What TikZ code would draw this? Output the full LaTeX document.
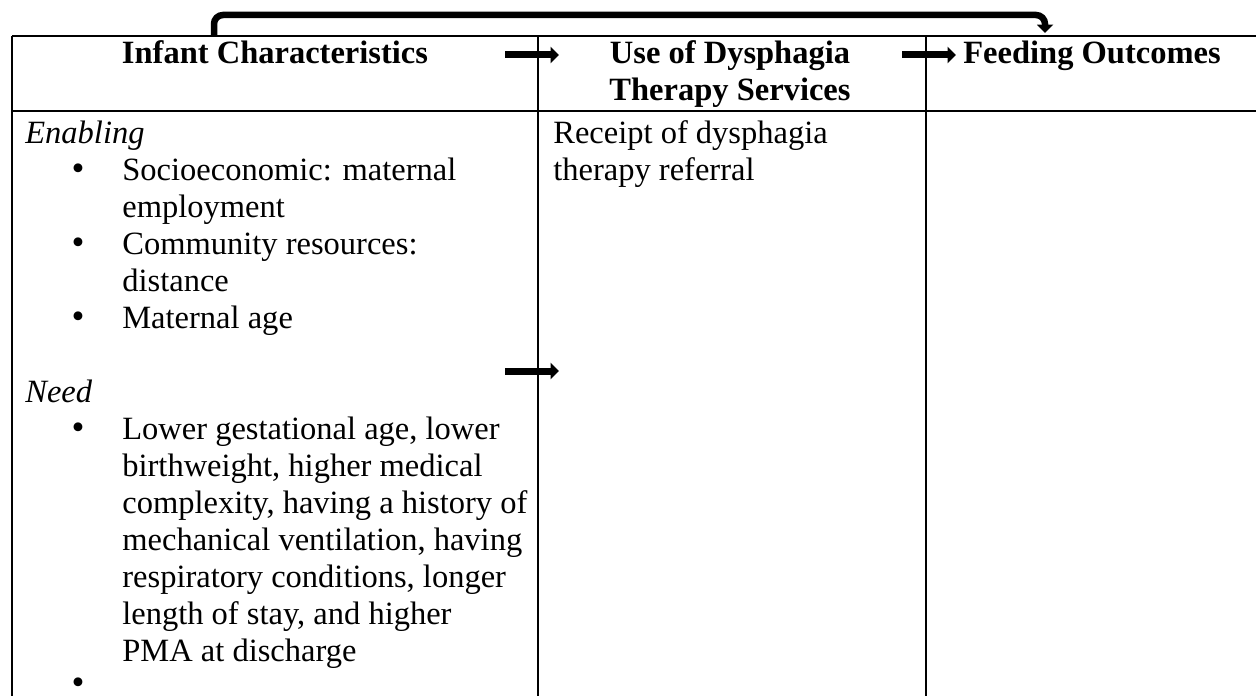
\documentclass[tikz,border=0pt]{standalone}
\usepackage{fontspec}
\setmainfont{Liberation Serif}
\usetikzlibrary{arrows.meta}
\tikzset{>={Triangle[length=0.17cm,width=0.32cm]}}
\tikzset{
    cell/.style={anchor=base west,inner sep=0pt,align=left,font=\fontsize{18.5pt}{21pt}\selectfont},
    head/.style={anchor=base,inner sep=0pt,align=center,font=\fontsize{18.5pt}{21pt}\selectfont\bfseries},
    bul/.style={anchor=base,inner sep=0pt,font=\fontsize{21pt}{21pt}\selectfont},
    rule/.style={line width=0.04cm},
    flow/.style={line width=0.14cm,->},
}
% multi-line nodes sit on the baseline of their last line
\newcommand\tablerule[4]{
    \draw[rule] (#1,#2) -- (#3,#4);
}

\begin{document}
\begin{tikzpicture}[x=0.02cm,y=-0.02cm]
    \useasboundingbox (0,0) rectangle (1256,696);
    % table
    \tablerule{12}{36}{1256}{36}
    \tablerule{12}{111}{1256}{111}
    \tablerule{12}{36}{12}{696}
    \tablerule{538}{36}{538}{696}
    \tablerule{926}{36}{926}{696}
    % header row
    \node[head] (infant) at (275,64) {Infant Characteristics};
    \node[head] (use)    at (730,100) {Use of Dysphagia\\Therapy Services};
    \node[head] (feed)   at (1092,64) {Feeding Outcomes};
    % first column
    \node[cell] (enabling) at (25,143) {\itshape Enabling};
    \node[cell] (socio)    at (122,217) {Socioeconomic: maternal\\employment};
    \node[cell] (comm)     at (122,291) {Community resources:\\distance};
    \node[cell] (matage)   at (122,328) {Maternal age};
    \node[cell] (need)     at (25,402) {\itshape Need};
    \node[cell] (lower)    at (122,661) {Lower gestational age, lower\\birthweight, higher medical\\complexity, having a history of\\mechanical ventilation, having\\respiratory conditions, longer\\length of stay, and higher\\PMA at discharge};
    \foreach \y in {180,254,328,439,694}
        \node[bul] at (78,\y) {\textbullet};
    % second column
    \node[cell] (receipt) at (553,180) {Receipt of dysphagia\\therapy referral};
    % arrows
    \coordinate (a1) at (505,55);
    \coordinate (b1) at (559,55);
    \coordinate (a2) at (902,55);
    \coordinate (b2) at (956,55);
    \coordinate (a3) at (505,371);
    \coordinate (b3) at (559,371);
    \coordinate (t0) at (214,36);
    \coordinate (t1) at (1045,15);
    \coordinate (t2) at (1045,33);
    \draw[flow] (a1) -- (b1);
    \draw[flow] (a2) -- (b2);
    \draw[flow] (a3) -- (b3);
    \draw[line width=0.13cm,->,rounded corners=0.18cm] (t0) |- (t1) -- (t2);
\end{tikzpicture}
\end{document}
